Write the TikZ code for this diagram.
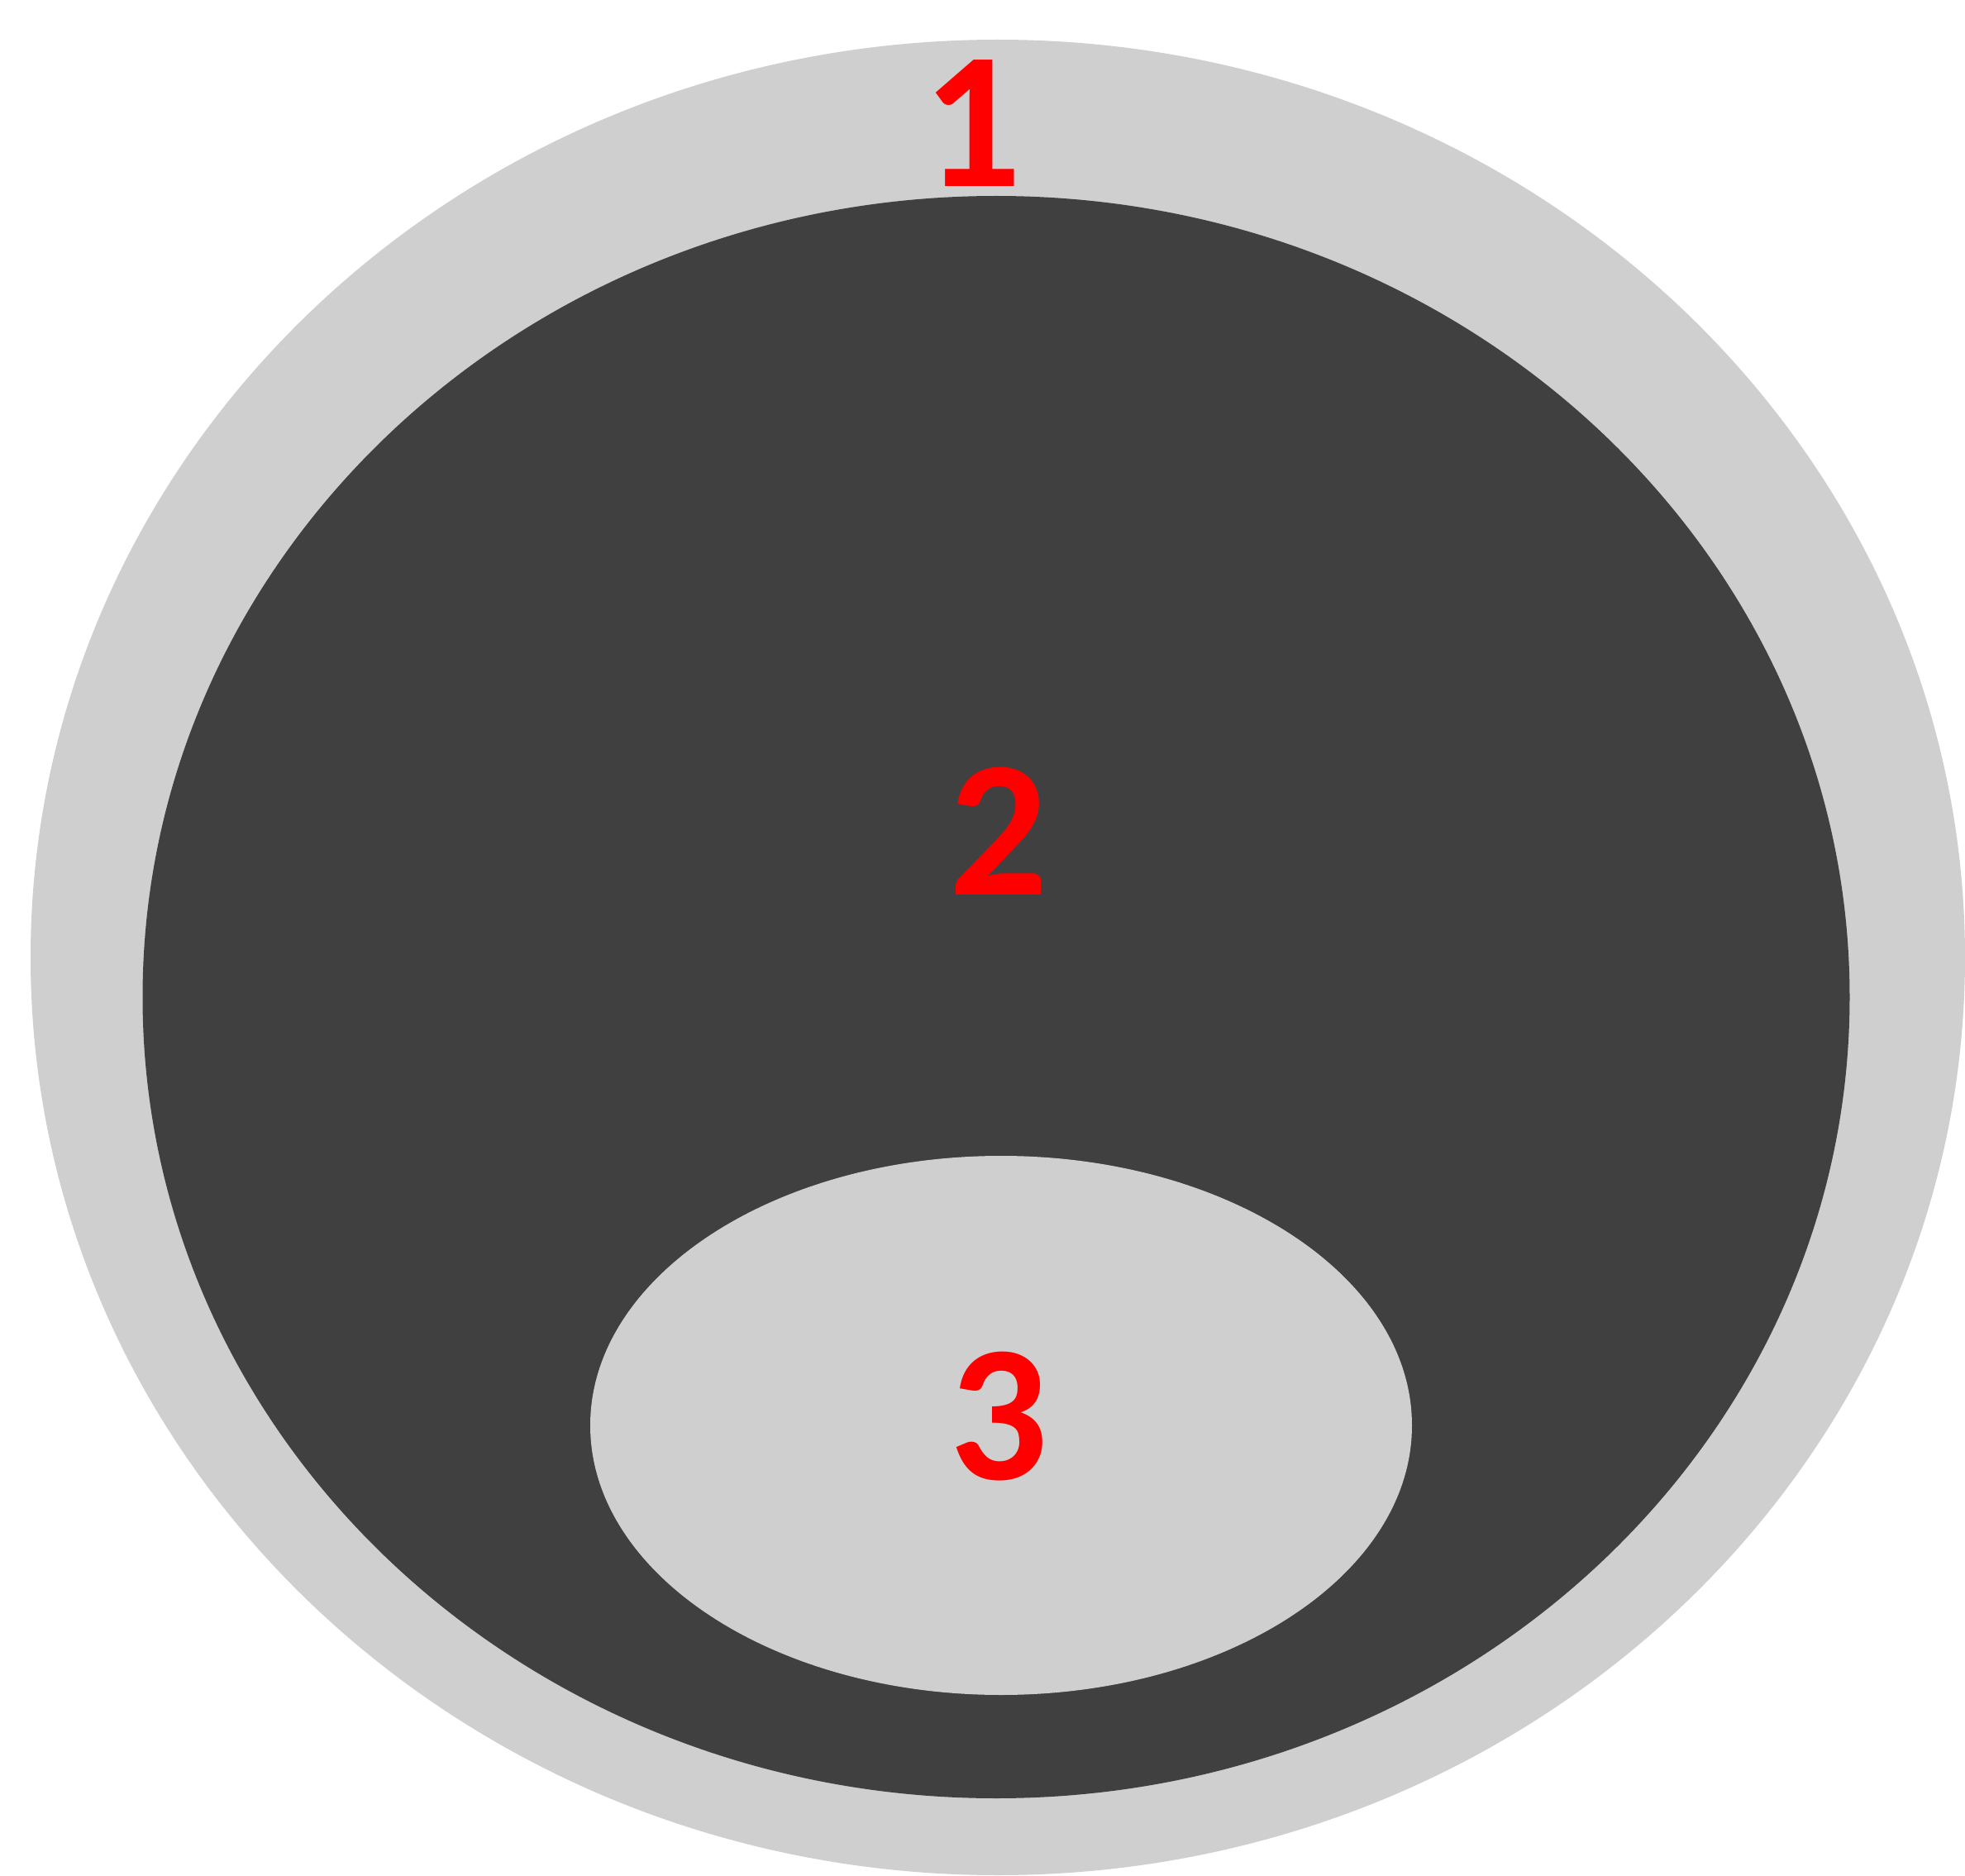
\documentclass[tikz,border=0pt]{standalone}
\usepackage{xcolor}
\usepackage{fontspec}
\setmainfont{Carlito}
\usepackage{tikz}
\usetikzlibrary{shapes, shapes.geometric, positioning}

\definecolor{ringgray}{RGB}{208,207,208}
\definecolor{coredark}{RGB}{64,64,64}

\begin{document}
\begin{tikzpicture}[
    % Styles
    region/.style={ellipse, draw=none, inner sep=0pt},
    outerring/.style={region, fill=ringgray, minimum width=23.40cm, minimum height=22.20cm},
    innercore/.style={region, fill=coredark, minimum width=20.65cm, minimum height=19.38cm},
    kernel/.style={region, fill=ringgray, minimum width=9.94cm, minimum height=6.52cm},
    numlabel/.style={inner sep=0pt, text=red, font=\fontsize{67}{67}\selectfont\bfseries}
]

    % --- Page frame ---
    \clip (0, 0) rectangle (23.77, -22.69);

    % --- Nested regions ---
    \node[outerring] (ring) at (12.07, -11.58) {};
    \node[innercore] (core) at (12.05, -12.06) {};
    \node[kernel] (inner) at (12.11, -17.24) {};

    % --- Labels ---
    \node[numlabel] (lbl1) at (11.76, -1.49) {1};
    \node[numlabel] (lbl2) at (12.08, -10.05) {2};
    \node[numlabel] (lbl3) at (12.08, -17.13) {3};

\end{tikzpicture}
\end{document}
